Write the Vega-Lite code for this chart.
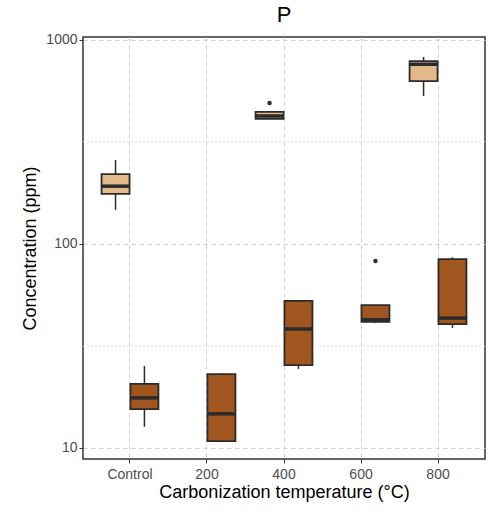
{
  "$schema": "https://vega.github.io/schema/vega-lite/v6.json",
  "autosize": "none",
  "width": 402,
  "height": 422,
  "padding": {"left": 83, "top": 37, "right": 8, "bottom": 54},
  "background": "white",
  "config": {
    "view": {"stroke": "#333333", "strokeWidth": 1.5},
    "font": "Liberation Sans",
    "axis": {"labelFont": "Liberation Sans", "titleFont": "Liberation Sans", "labelColor": "#4d4d4d", "labelFontSize": 14, "titleFontSize": 18, "titleFontWeight": "normal", "titleColor": "black", "domain": false, "tickColor": "#333333", "tickSize": 4, "gridColor": "#cccccc", "gridDash": [4, 4]}
  },
  "title": {"text": "P", "fontSize": 22, "fontWeight": "normal", "font": "Liberation Sans", "offset": 6},
  "datasets": {
    "boxes": [
      {"temp": "Control", "type": "A", "lower": 147, "q1": 176, "median": 192, "q3": 220, "upper": 258},
      {"temp": "400", "type": "A", "lower": 410, "q1": 410, "median": 424, "q3": 444, "upper": 444},
      {"temp": "800", "type": "A", "lower": 531, "q1": 629, "median": 760, "q3": 788, "upper": 826},
      {"temp": "Control", "type": "B", "lower": 12.7, "q1": 15.5, "median": 17.6, "q3": 20.6, "upper": 25.2},
      {"temp": "200", "type": "B", "lower": 10.8, "q1": 10.8, "median": 14.7, "q3": 23.0, "upper": 23.3},
      {"temp": "400", "type": "B", "lower": 24.4, "q1": 25.5, "median": 38.3, "q3": 52.6, "upper": 52.6},
      {"temp": "600", "type": "B", "lower": 41, "q1": 41.5, "median": 42.5, "q3": 50.2, "upper": 50.2},
      {"temp": "800", "type": "B", "lower": 38.8, "q1": 40.5, "median": 43.3, "q3": 84.3, "upper": 86}
    ],
    "outliers": [
      {"temp": "400", "type": "A", "value": 491},
      {"temp": "600", "type": "B", "value": 82.6}
    ],
    "minor": [{"v": 31.62}, {"v": 316.2}]
  },
  "layer": [
    {
      "data": {"name": "minor"},
      "mark": {"type": "rule", "color": "#dddddd", "strokeDash": [2, 2]},
      "encoding": {"y": {"field": "v", "type": "quantitative", "scale": {"type": "log"}}}
    },
    {
      "data": {"name": "boxes"},
      "mark": {"type": "rule", "color": "#2b2b2b", "strokeWidth": 1.5},
      "encoding": {
        "x": {"field": "temp", "type": "nominal", "sort": ["Control", "200", "400", "600", "800"], "scale": {"domain": ["Control", "200", "400", "600", "800"], "paddingInner": 0.25, "paddingOuter": 0.235}, "axis": {"title": "Carbonization temperature (°C)", "labelAngle": 0, "grid": true, "labelPadding": 4, "titlePadding": 2}},
        "xOffset": {"field": "type", "type": "nominal", "scale": {"domain": ["A", "B"]}},
        "y": {"field": "lower", "type": "quantitative", "scale": {"type": "log", "domain": [8.83, 1034], "nice": false}, "axis": {"title": "Concentration (ppm)", "values": [10, 100, 1000], "format": "d", "titlePadding": 6}},
        "y2": {"field": "upper"}
      }
    },
    {
      "data": {"name": "boxes"},
      "mark": {"type": "bar", "size": 28, "stroke": "#2b2b2b", "strokeWidth": 1.8},
      "encoding": {
        "x": {"field": "temp", "type": "nominal", "sort": ["Control", "200", "400", "600", "800"]},
        "xOffset": {"field": "type", "type": "nominal"},
        "y": {"field": "q1", "type": "quantitative"},
        "y2": {"field": "q3"},
        "color": {"field": "type", "type": "nominal", "scale": {"domain": ["A", "B"], "range": ["#E3B88A", "#A0561E"]}, "legend": null}
      }
    },
    {
      "data": {"name": "boxes"},
      "mark": {"type": "tick", "size": 28, "thickness": 3.5, "color": "#2b2b2b", "opacity": 1, "orient": "horizontal"},
      "encoding": {
        "x": {"field": "temp", "type": "nominal", "sort": ["Control", "200", "400", "600", "800"]},
        "xOffset": {"field": "type", "type": "nominal"},
        "y": {"field": "median", "type": "quantitative"}
      }
    },
    {
      "data": {"name": "outliers"},
      "mark": {"type": "point", "filled": true, "size": 20, "color": "#2b2b2b", "opacity": 1},
      "encoding": {
        "x": {"field": "temp", "type": "nominal", "sort": ["Control", "200", "400", "600", "800"]},
        "xOffset": {"field": "type", "type": "nominal"},
        "y": {"field": "value", "type": "quantitative"}
      }
    }
  ]
}
